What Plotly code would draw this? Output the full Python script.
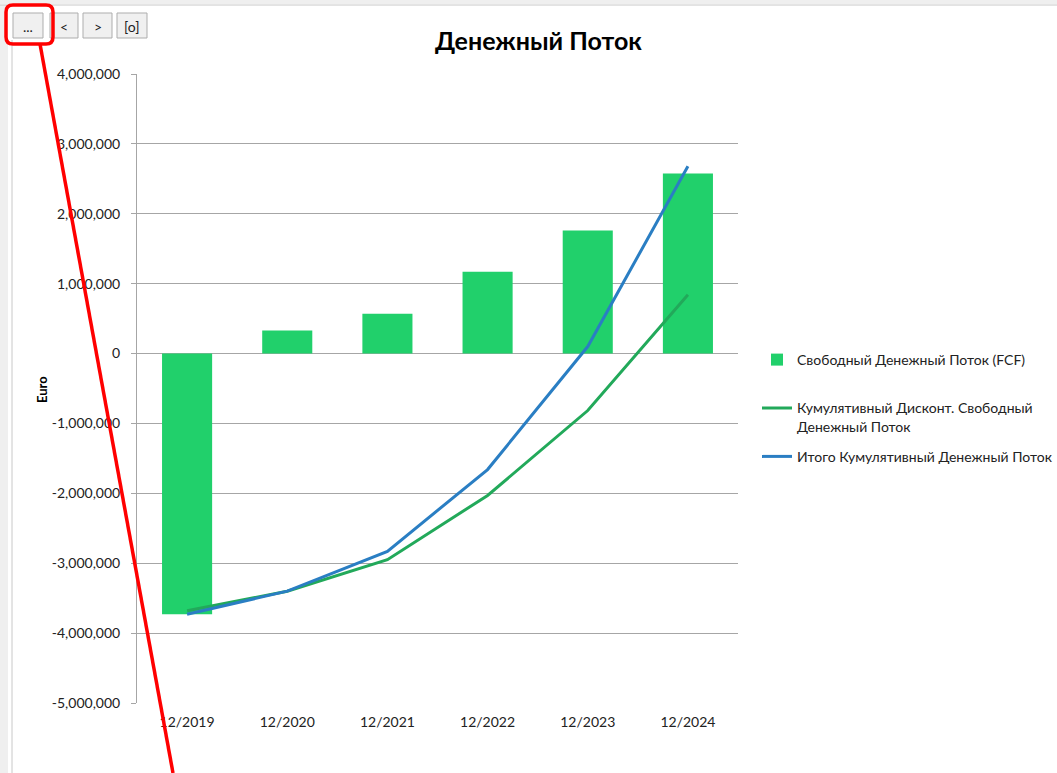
import plotly.graph_objects as go

categories = ["12/2019", "12/2020", "12/2021", "12/2022", "12/2023", "12/2024"]
fcf = [-3730000, 330000, 570000, 1170000, 1760000, 2575000]
cum_disc = [-3680000, -3400000, -2950000, -2030000, -815000, 840000]
cum_total = [-3730000, -3400000, -2830000, -1660000, 100000, 2680000]
y_ticks = [4000000, 3000000, 2000000, 1000000, 0, -1000000, -2000000, -3000000, -4000000, -5000000]
y_tick_text = ["4,000,000", "3,000,000", "2,000,000", "1,000,000", "0", "-1,000,000",
               "-2,000,000", "-3,000,000", "-4,000,000", "-5,000,000"]

W, H = 1057, 773
L, R, T, B = 137, 738, 74, 703
FONT = "Lato, 'Open Sans', sans-serif"

def px(x):
    return (x - L) / (R - L)

def py(y):
    return (B - y) / (B - T)

fig = go.Figure()
fig.add_trace(go.Bar(x=categories, y=fcf, name="Свободный Денежный Поток (FCF)<br>\u00a0",
                     marker=dict(color="#21D06B", line=dict(width=0)), width=0.5,
                     legendgroup="a"))
fig.add_trace(go.Scatter(x=categories, y=cum_disc, mode="lines",
                         name="Кумулятивный Дисконт. Свободный<br>Денежный Поток",
                         line=dict(color="#22A95A", width=3), legendgroup="b"))
fig.add_trace(go.Scatter(x=categories, y=cum_total, mode="lines",
                         name="Итого Кумулятивный Денежный Поток",
                         line=dict(color="#2A7EC3", width=3), legendgroup="c"))

shapes = []
# window frame
shapes.append(dict(type="rect", xref="paper", yref="paper", x0=px(0), x1=px(W), y0=py(0), y1=py(4),
                   fillcolor="#EFEFEF", line=dict(width=0), layer="below"))
shapes.append(dict(type="line", xref="paper", yref="paper", x0=px(0), x1=px(W), y0=py(5), y1=py(5),
                   line=dict(color="#C8C8C8", width=1)))
shapes.append(dict(type="rect", xref="paper", yref="paper", x0=px(0), x1=px(8), y0=py(5), y1=py(H),
                   fillcolor="#EFEFEF", line=dict(width=0), layer="below"))
shapes.append(dict(type="line", xref="paper", yref="paper", x0=px(12), x1=px(12), y0=py(40), y1=py(H),
                   line=dict(color="#C8C8C8", width=1)))
# buttons
buttons = [("...", 13, 43), ("<", 50, 78), (">", 83, 112), ("[o]", 117, 147)]
annotations = []
for label, x0, x1 in buttons:
    shapes.append(dict(type="rect", xref="paper", yref="paper", x0=px(x0), x1=px(x1),
                       y0=py(13), y1=py(38), fillcolor="#F0F0F0",
                       line=dict(color="#ADADAD", width=1)))
    annotations.append(dict(x=px((x0 + x1) / 2), y=py(26), xref="paper", yref="paper",
                            text=label, showarrow=False, font=dict(family=FONT, size=14, color="#222"),
                            xanchor="center", yanchor="middle"))
# red highlight (rounded rectangle) and red line
rx0, rx1, ry0, ry1, r = 6, 53, 5, 44, 7
path = (f"M {px(rx0 + r)},{py(ry0)} L {px(rx1 - r)},{py(ry0)} "
        f"Q {px(rx1)},{py(ry0)} {px(rx1)},{py(ry0 + r)} L {px(rx1)},{py(ry1 - r)} "
        f"Q {px(rx1)},{py(ry1)} {px(rx1 - r)},{py(ry1)} L {px(rx0 + r)},{py(ry1)} "
        f"Q {px(rx0)},{py(ry1)} {px(rx0)},{py(ry1 - r)} L {px(rx0)},{py(ry0 + r)} "
        f"Q {px(rx0)},{py(ry0)} {px(rx0 + r)},{py(ry0)} Z")
shapes.append(dict(type="path", xref="paper", yref="paper", path=path,
                   line=dict(color="#FF0000", width=3.5)))
shapes.append(dict(type="line", xref="paper", yref="paper", x0=px(40), y0=py(44), x1=px(173), y1=py(773),
                   line=dict(color="#FF0000", width=3.5)))

annotations.append(dict(x=px(538), y=py(40), xref="paper", yref="paper", text="<b>Денежный Поток</b>",
                        showarrow=False, font=dict(family=FONT, size=25, color="#000"),
                        xanchor="center", yanchor="middle"))
annotations.append(dict(x=px(42), y=py(390), xref="paper", yref="paper", text="<b>Euro</b>",
                        showarrow=False, textangle=-90, font=dict(family=FONT, size=13, color="#000"),
                        xanchor="center", yanchor="middle"))

fig.update_layout(
    width=W, height=H,
    margin=dict(l=L, r=W - R, t=T, b=H - B, pad=0, autoexpand=False),
    paper_bgcolor="white", plot_bgcolor="white",
    font=dict(family=FONT, size=14, color="#222"),
    showlegend=True,
    legend=dict(x=px(757), y=py(344), xanchor="left", yanchor="top", valign="top",
                font=dict(family=FONT, size=14, color="#222"), tracegroupgap=9,
                itemwidth=30, bgcolor="rgba(0,0,0,0)"),
    shapes=shapes, annotations=annotations,
    bargap=0.5,
)
fig.update_yaxes(range=[-5000000, 4000000], tickvals=y_ticks, ticktext=y_tick_text,
                 showgrid=True, gridcolor="#A6A6A6", gridwidth=1, zeroline=False,
                 showline=True, linecolor="#A6A6A6", linewidth=1,
                 ticks="outside", ticklen=5, tickcolor="#A6A6A6", ticklabelstandoff=8,
                 tickfont=dict(family=FONT, size=14, color="#222"), fixedrange=True)
fig.update_xaxes(showgrid=False, showline=False, zeroline=False, ticks="", ticklabelstandoff=9,
                 tickfont=dict(family=FONT, size=14, color="#222"), fixedrange=True)

fig.write_html("out.html", config={"displayModeBar": False},
               post_script="document.body.style.margin='0';document.body.style.padding='0';document.body.style.overflow='hidden';")
